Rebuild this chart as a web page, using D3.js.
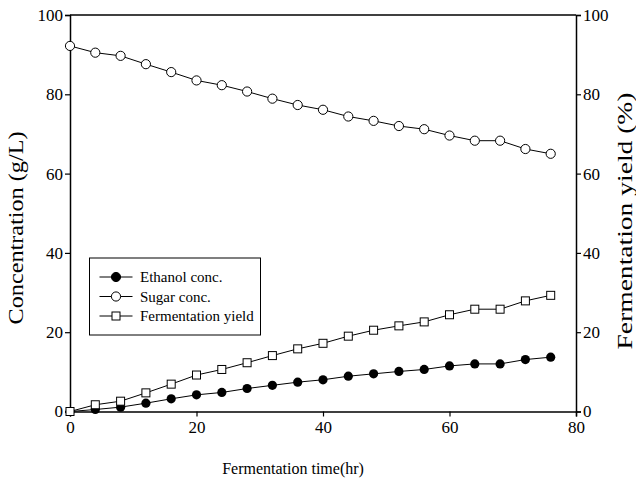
<!DOCTYPE html>
<html lang="en">
<head>
    <meta charset="UTF-8">
    <title>Fermentation</title>
    <style>
        body { margin : 0; background : #fff }
        svg, svg text { font-family : "Liberation Serif", "Times New Roman", Times, serif }
    </style>
</head>
<body>
    <script src="https://cdnjs.cloudflare.com/ajax/libs/d3/7.8.2/d3.min.js"></script>
    <script>

        const temps = [0,4,8,12,16,20,24,28,32,36,40,44,48,52,56,60,64,68,72,76]
        const ethanol = [0,0.5,1.1,2.1,3.2,4.2,4.8,5.8,6.6,7.4,8.0,8.9,9.5,10.1,10.6,11.5,12.0,12.0,13.1,13.7]
        const sucre = [92.2,90.5,89.7,87.6,85.6,83.5,82.3,80.7,78.9,77.3,76.1,74.4,73.3,72.0,71.2,69.6,68.3,68.3,66.2,65.0]
        const rendement = [0,1.7,2.6,4.7,6.9,9.2,10.6,12.3,14.1,15.8,17.2,19.0,20.5,21.6,22.6,24.4,25.8,25.8,27.9,29.3]
        const ticksX = [0,20,40,60,80]
        const ticksY = [0,20,40,60,80,100]
        const legende = ["Ethanol conc.","Sugar conc.","Fermentation yield"]

        const w = 636
        const h = 482
        const m = {top : 15, right : 60, bottom : 70.5, left : 70}
        const police = "Liberation Serif, Times New Roman, serif"

        let svg = d3.select("body")
            .append("svg")
                .attr("width",w)
                .attr("height",h)
                .attr("font-family",police)

        const echelleX = d3.scaleLinear()
            .domain([0,80])
            .range([m.left, w - m.right])

        const echelleY = d3.scaleLinear()
            .domain([0,100])
            .range([h - m.bottom, m.top])

        // même échelle pour le rendement (%)
        const echelleY2 = d3.scaleLinear()
            .domain([0,100])
            .range([h - m.bottom, m.top])

        // cadre du haut
        svg.append("line")
            .attr("x1",m.left).attr("x2",w - m.right)
            .attr("y1",m.top).attr("y2",m.top)
            .attr("stroke","#000").attr("stroke-width",1.5)

        const axeX = svg.append("g")
            .attr("transform",`translate(0,${h - m.bottom})`)
            .call(d3.axisBottom(echelleX).tickValues(ticksX).tickSize(5).tickPadding(4))
        const axeG = svg.append("g")
            .attr("transform",`translate(${m.left},0)`)
            .call(d3.axisLeft(echelleY).tickValues(ticksY).tickSize(5).tickPadding(2))
        const axeD = svg.append("g")
            .attr("transform",`translate(${w - m.right},0)`)
            .call(d3.axisRight(echelleY2).tickValues(ticksY).tickSize(5).tickPadding(2))

        ;[axeX,axeG,axeD].forEach(a => {
            a.attr("font-family",police).attr("font-size",17)
            a.select(".domain").attr("stroke-width",1.5)
            a.selectAll(".tick line").attr("stroke-width",1.2)
            a.selectAll("text").attr("fill","#000")
        })

        const ligne = (ys, sc) => d3.line()
            .x((d,i) => echelleX(temps[i]))
            .y(d => sc(d))(ys)

        // éthanol
        svg.append("path").attr("d",ligne(ethanol,echelleY))
            .attr("fill","none").attr("stroke","#000").attr("stroke-width",1)
        svg.selectAll(".eth")
            .data(ethanol)
            .enter()
            .append("circle")
                .attr("cx",(d,i) => echelleX(temps[i]))
                .attr("cy",d => echelleY(d))
                .attr("r",4.6)
                .attr("fill","#000")

        // sucre
        svg.append("path").attr("d",ligne(sucre,echelleY))
            .attr("fill","none").attr("stroke","#000").attr("stroke-width",1)
        svg.selectAll(".suc")
            .data(sucre)
            .enter()
            .append("circle")
                .attr("cx",(d,i) => echelleX(temps[i]))
                .attr("cy",d => echelleY(d))
                .attr("r",4.6)
                .attr("fill","#fff").attr("stroke","#000").attr("stroke-width",1)

        // rendement
        svg.append("path").attr("d",ligne(rendement,echelleY2))
            .attr("fill","none").attr("stroke","#000").attr("stroke-width",1)
        svg.selectAll(".ren")
            .data(rendement)
            .enter()
            .append("rect")
                .attr("x",(d,i) => echelleX(temps[i]) - 4)
                .attr("y",d => echelleY2(d) - 4)
                .attr("width",8).attr("height",8)
                .attr("fill","#fff").attr("stroke","#000").attr("stroke-width",1)

        // légende
        const lg = svg.append("g").attr("transform","translate(89.5,258)")
        lg.append("rect").attr("width",171).attr("height",77)
            .attr("fill","#fff").attr("stroke","#000").attr("stroke-width",1)
        legende.forEach((t,i) => {
            const y = 19 + i * 19.5
            lg.append("line").attr("x1",10).attr("x2",43).attr("y1",y).attr("y2",y)
                .attr("stroke","#000").attr("stroke-width",1)
            if (i < 2) {
                lg.append("circle").attr("cx",26.5).attr("cy",y).attr("r",4.6)
                    .attr("fill",i == 0 ? "#000" : "#fff").attr("stroke","#000")
            } else {
                lg.append("rect").attr("x",22.5).attr("y",y - 4).attr("width",8).attr("height",8)
                    .attr("fill","#fff").attr("stroke","#000")
            }
            lg.append("text").attr("x",50.5).attr("y",y).attr("dy","0.35em")
                .attr("font-size",15).text(t)
        })

        // titres
        svg.append("text")
            .attr("x",293).attr("y",474)
            .attr("text-anchor","middle")
            .attr("font-size",16)
            .text("Fermentation time(hr)")

        svg.append("text")
            .attr("transform","translate(23,228) rotate(-90)")
            .attr("text-anchor","middle")
            .attr("textLength",193).attr("lengthAdjust","spacingAndGlyphs")
            .attr("font-size",22)
            .text("Concentration (g/L)")

        svg.append("text")
            .attr("transform","translate(632,221) rotate(-90)")
            .attr("text-anchor","middle")
            .attr("textLength",257).attr("lengthAdjust","spacingAndGlyphs")
            .attr("font-size",22)
            .text("Fermentation yield (%)")

    </script>
</body>
</html>
